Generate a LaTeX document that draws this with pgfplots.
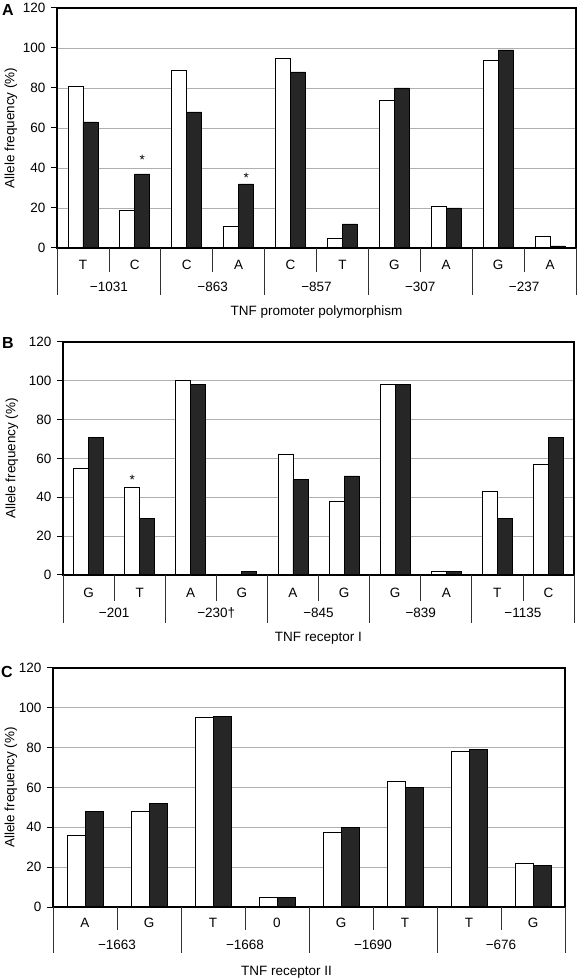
\documentclass[border=0pt]{standalone}
\usepackage{fontspec}
\setmainfont{Liberation Sans}
\usepackage{pgfplots}
\pgfplotsset{compat=1.18}
\definecolor{barblack}{RGB}{38,38,38}
\definecolor{gridgray}{RGB}{175,175,175}
\definecolor{sepgray}{RGB}{50,50,50}
\pgfplotsset{
  panel/.style={
    scale only axis, anchor=south west,
    ybar=0pt,
    ymin=0, ymax=120, ytick={0,20,...,120},
    xtick=\empty,
    ymajorgrids, grid style={gridgray, line width=0.7pt},
    axis line style={line width=1.5pt},
    ytick pos=left, tick align=outside, major tick length=6pt,
    tick style={line width=1pt, black},
    /pgf/number format/assume math mode=true,
    yticklabel style={xshift=-2pt},
    ylabel={Allele frequency (\%)},
    clip=false,
  },
  white bars/.style={fill=white, draw=black, line width=0.8pt},
  black bars/.style={fill=barblack, draw=black, line width=0.8pt},
}
\tikzset{sep/.style={sepgray, line width=0.8pt}, baseline axis/.style={black, line width=1.5pt}}
\begin{document}
\begin{tikzpicture}[font=\fontsize{13.5}{16}\selectfont]
\path[use as bounding box] (0pt,0pt) rectangle (579pt,980pt);

% ---------------- Panel A ----------------
\begin{axis}[panel, at={(57pt,732pt)}, width=519pt, height=240pt,
  xmin=-0.5, xmax=9.5, bar width=15pt,
  ylabel style={at={([xshift=-46pt]axis description cs:0,0.5)}, anchor=center}]
\addplot[white bars] coordinates {(0,81) (1,19) (2,89) (3,11) (4,95) (5,5) (6,74) (7,21) (8,94) (9,6)};
\addplot[black bars] coordinates {(0,63) (1,37) (2,68) (3,32) (4,88) (5,12) (6,80) (7,20) (8,99) (9,1)};
\draw[baseline axis] (axis cs:-0.5,0) -- (axis cs:9.5,0);
\draw[sep] (axis cs:-0.5,0) -- ++(0pt,-47pt);
\draw[sep] (axis cs:1.5,0) -- ++(0pt,-47pt);
\draw[sep] (axis cs:3.5,0) -- ++(0pt,-47pt);
\draw[sep] (axis cs:5.5,0) -- ++(0pt,-47pt);
\draw[sep] (axis cs:7.5,0) -- ++(0pt,-47pt);
\draw[sep] (axis cs:9.5,0) -- ++(0pt,-47pt);
\draw[sep] (axis cs:0.5,0) -- ++(0pt,-24pt);
\draw[sep] (axis cs:2.5,0) -- ++(0pt,-24pt);
\draw[sep] (axis cs:4.5,0) -- ++(0pt,-24pt);
\draw[sep] (axis cs:6.5,0) -- ++(0pt,-24pt);
\draw[sep] (axis cs:8.5,0) -- ++(0pt,-24pt);
\node at ([yshift=-17pt]axis cs:0,0) {T};
\node at ([yshift=-17pt]axis cs:1,0) {C};
\node at ([yshift=-17pt]axis cs:2,0) {C};
\node at ([yshift=-17pt]axis cs:3,0) {A};
\node at ([yshift=-17pt]axis cs:4,0) {C};
\node at ([yshift=-17pt]axis cs:5,0) {T};
\node at ([yshift=-17pt]axis cs:6,0) {G};
\node at ([yshift=-17pt]axis cs:7,0) {A};
\node at ([yshift=-17pt]axis cs:8,0) {G};
\node at ([yshift=-17pt]axis cs:9,0) {A};
\node at ([yshift=-39pt]axis cs:0.5,0) {−1031};
\node at ([yshift=-39pt]axis cs:2.5,0) {−863};
\node at ([yshift=-39pt]axis cs:4.5,0) {−857};
\node at ([yshift=-39pt]axis cs:6.5,0) {−307};
\node at ([yshift=-39pt]axis cs:8.5,0) {−237};
\node at ([yshift=-64pt]axis cs:4.5,0) {TNF promoter polymorphism};
\node[anchor=base] at ([xshift=7.5pt]axis cs:1,41.6) {*};
\node[anchor=base] at ([xshift=7.5pt]axis cs:3,32.5) {*};
\end{axis}

% ---------------- Panel B ----------------
\begin{axis}[panel, at={(63pt,405pt)}, width=511pt, height=233pt,
  xmin=-0.5, xmax=9.5, bar width=15pt,
  ylabel style={at={([xshift=-51pt]axis description cs:0,0.5)}, anchor=center}]
\addplot[white bars] coordinates {(0,55) (1,45) (2,100) (3,0) (4,62) (5,38) (6,98) (7,2) (8,43) (9,57)};
\addplot[black bars] coordinates {(0,71) (1,29) (2,98) (3,2) (4,49) (5,51) (6,98) (7,2) (8,29) (9,71)};
\draw[baseline axis] (axis cs:-0.5,0) -- (axis cs:9.5,0);
\draw[sep] (axis cs:-0.5,0) -- ++(0pt,-48pt);
\draw[sep] (axis cs:1.5,0) -- ++(0pt,-48pt);
\draw[sep] (axis cs:3.5,0) -- ++(0pt,-48pt);
\draw[sep] (axis cs:5.5,0) -- ++(0pt,-48pt);
\draw[sep] (axis cs:7.5,0) -- ++(0pt,-48pt);
\draw[sep] (axis cs:9.5,0) -- ++(0pt,-48pt);
\draw[sep] (axis cs:0.5,0) -- ++(0pt,-26pt);
\draw[sep] (axis cs:2.5,0) -- ++(0pt,-26pt);
\draw[sep] (axis cs:4.5,0) -- ++(0pt,-26pt);
\draw[sep] (axis cs:6.5,0) -- ++(0pt,-26pt);
\draw[sep] (axis cs:8.5,0) -- ++(0pt,-26pt);
\node at ([yshift=-18pt]axis cs:0,0) {G};
\node at ([yshift=-18pt]axis cs:1,0) {T};
\node at ([yshift=-18pt]axis cs:2,0) {A};
\node at ([yshift=-18pt]axis cs:3,0) {G};
\node at ([yshift=-18pt]axis cs:4,0) {A};
\node at ([yshift=-18pt]axis cs:5,0) {G};
\node at ([yshift=-18pt]axis cs:6,0) {G};
\node at ([yshift=-18pt]axis cs:7,0) {A};
\node at ([yshift=-18pt]axis cs:8,0) {T};
\node at ([yshift=-18pt]axis cs:9,0) {C};
\node at ([yshift=-38pt]axis cs:0.5,0) {−201};
\node at ([yshift=-38pt]axis cs:2.5,0) {−230†};
\node at ([yshift=-38pt]axis cs:4.5,0) {−845};
\node at ([yshift=-38pt]axis cs:6.5,0) {−839};
\node at ([yshift=-38pt]axis cs:8.5,0) {−1135};
\node at ([yshift=-63pt]axis cs:4.5,0) {TNF receptor I};
\node[anchor=base] at ([xshift=-7.5pt]axis cs:1,46.5) {*};
\end{axis}

% ---------------- Panel C ----------------
\begin{axis}[panel, at={(53pt,73pt)}, width=512pt, height=239pt,
  xmin=-0.5, xmax=7.5, bar width=18pt,
  ylabel style={at={([xshift=-42pt]axis description cs:0,0.5)}, anchor=center}]
\addplot[white bars] coordinates {(0,36) (1,48) (2,95) (3,5) (4,37.5) (5,63) (6,78) (7,22)};
\addplot[black bars] coordinates {(0,48) (1,52) (2,95.5) (3,5) (4,40) (5,60) (6,79) (7,21)};
\draw[baseline axis] (axis cs:-0.5,0) -- (axis cs:7.5,0);
\draw[sep] (axis cs:-0.5,0) -- ++(0pt,-46pt);
\draw[sep] (axis cs:1.5,0) -- ++(0pt,-46pt);
\draw[sep] (axis cs:3.5,0) -- ++(0pt,-46pt);
\draw[sep] (axis cs:5.5,0) -- ++(0pt,-46pt);
\draw[sep] (axis cs:7.5,0) -- ++(0pt,-46pt);
\draw[sep] (axis cs:0.5,0) -- ++(0pt,-23pt);
\draw[sep] (axis cs:2.5,0) -- ++(0pt,-23pt);
\draw[sep] (axis cs:4.5,0) -- ++(0pt,-23pt);
\draw[sep] (axis cs:6.5,0) -- ++(0pt,-23pt);
\node at ([yshift=-16pt]axis cs:0,0) {A};
\node at ([yshift=-16pt]axis cs:1,0) {G};
\node at ([yshift=-16pt]axis cs:2,0) {T};
\node at ([yshift=-16pt]axis cs:3,0) {0};
\node at ([yshift=-16pt]axis cs:4,0) {G};
\node at ([yshift=-16pt]axis cs:5,0) {T};
\node at ([yshift=-16pt]axis cs:6,0) {T};
\node at ([yshift=-16pt]axis cs:7,0) {G};
\node at ([yshift=-38pt]axis cs:0.5,0) {−1663};
\node at ([yshift=-38pt]axis cs:2.5,0) {−1668};
\node at ([yshift=-38pt]axis cs:4.5,0) {−1690};
\node at ([yshift=-38pt]axis cs:6.5,0) {−676};
\node at ([yshift=-65pt]axis cs:3.15,0) {TNF receptor II};
\end{axis}

% panel letters
\node[font=\bfseries\fontsize{16}{18}\selectfont] at (8pt,970pt) {A};
\node[font=\bfseries\fontsize{16}{18}\selectfont] at (8pt,637pt) {B};
\node[font=\bfseries\fontsize{16}{18}\selectfont] at (7pt,308pt) {C};
\end{tikzpicture}
\end{document}
